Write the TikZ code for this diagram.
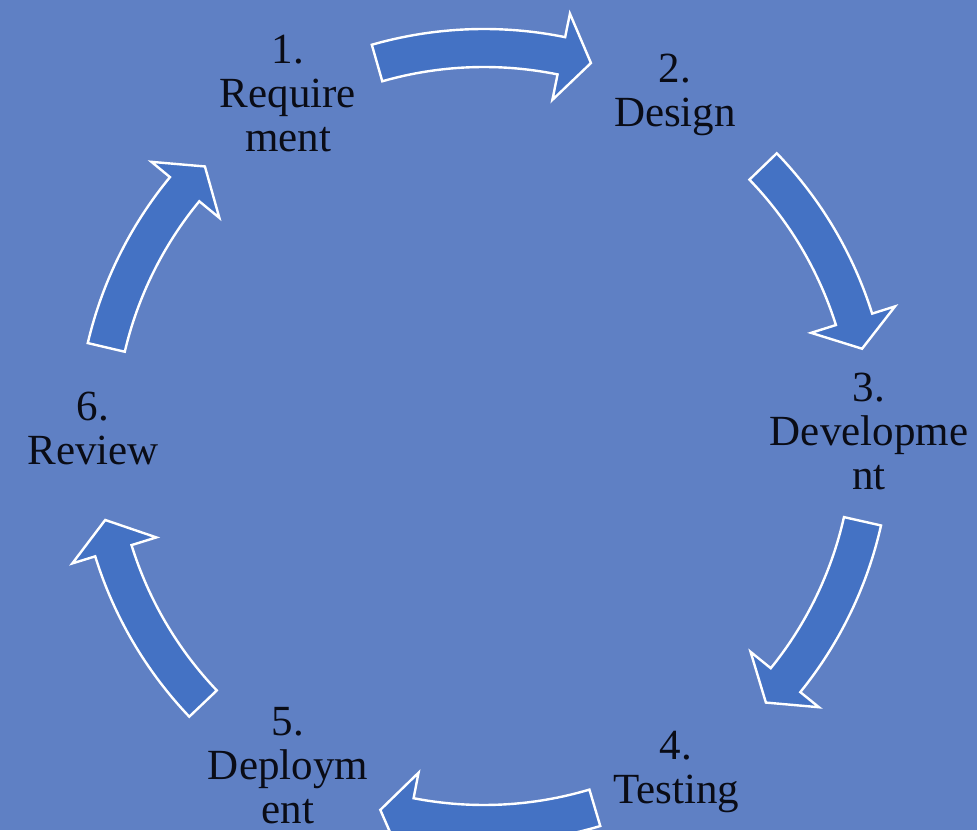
\documentclass[tikz,border=0pt]{standalone}
\usepackage{fontspec}
\setmainfont{Liberation Serif}
\definecolor{bgblue}{RGB}{95,128,196}
\definecolor{arrowblue}{RGB}{68,114,196}
\definecolor{labeltext}{RGB}{10,12,22}
\tikzset{
  cyclearrow/.style={fill=arrowblue, draw=white, line width=2.4pt, line join=miter},
  steplabel/.style={align=center, anchor=base, inner sep=0pt, text=labeltext,
    font=\fontsize{43}{44}\selectfont}
}
% #1 tail angle, #2 head base angle, #3 tip angle
\newcommand{\cyclearrowpath}[3]{%
  \draw[cyclearrow] (#1:407) arc[start angle=#1, end angle=#2, radius=407]
    -- (#2:431) -- (#3:388) -- (#2:343) -- (#2:369)
    arc[start angle=#2, end angle=#1, radius=369] -- cycle;}
\begin{document}
\begin{tikzpicture}[x=1pt,y=1pt]
\fill[bgblue] (0,0) rectangle (977,830);
\useasboundingbox (0,0) rectangle (977,830);
\begin{scope}[shift={(484,394)}]
  \cyclearrowpath{106}{78.5}{74}
  \cyclearrowpath{44}{17.5}{13}
  \cyclearrowpath{-12.7}{-39}{-43.4}
  \cyclearrowpath{286.6}{259}{254.5}
  \cyclearrowpath{223.6}{197.2}{192.5}
  \cyclearrowpath{166.8}{140.5}{136}
\end{scope}
\node[steplabel] (req) at (288,678) {1.\\Require\\ment};
\node[steplabel] (des) at (675,703) {2.\\Design};
\node[steplabel] (dev) at (869,340) {3.\\Developme\\nt};
\node[steplabel] (tes) at (676,27) {4.\\Testing};
\node[steplabel] (dep) at (288,7) {5.\\Deploym\\ent};
\node[steplabel] (rev) at (93,365) {6.\\Review};
\end{tikzpicture}
\end{document}
